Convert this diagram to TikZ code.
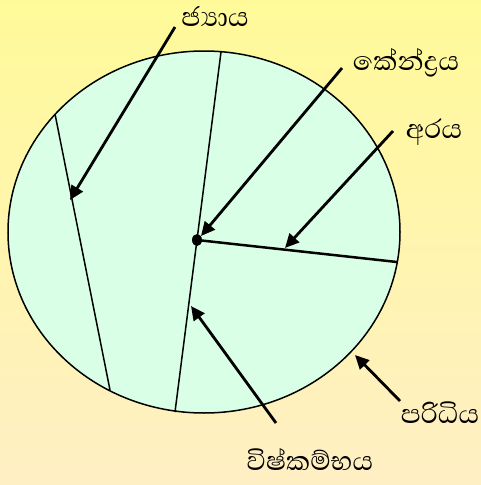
\documentclass[tikz,border=0pt]{standalone}
\usepackage{fontspec}
\newfontfamily\sinhala[Script=Sinhala]{Abhaya Libre}
\usepackage{xcolor}
\usetikzlibrary{arrows.meta,calc,positioning}
\definecolor{bgtop}{HTML}{FFFA99}
\definecolor{bgbottom}{HTML}{FFEFC4}
\definecolor{disc}{HTML}{D9FFE6}

\begin{document}
\begin{tikzpicture}[x=1pt,y=-1pt,
  lbl/.style={font=\sinhala\fontsize{34}{40}\selectfont,inner sep=0pt},
  pointer/.style={line width=2.8pt,-{Triangle[length=14pt,width=13pt]}},
  chordline/.style={line width=1.5pt}]
\useasboundingbox (0,0) rectangle (481,485);
\shade[top color=bgtop,bottom color=bgbottom] (0,0) rectangle (481,485);
% circle and its lines
\draw[line width=1.5pt,fill=disc] (204,232) ellipse [x radius=196pt,y radius=181pt];
\coordinate (c1) at (55,114); \coordinate (c2) at (110,390);
\coordinate (d1) at (221,52); \coordinate (d2) at (175,412);
\coordinate (o) at (197,240); \coordinate (r) at (397,262);
\draw[chordline] (c1) -- (c2);
\draw[chordline] (d1) -- (d2);
\draw[line width=2.5pt] (o) -- (r);
\fill (o) ellipse [x radius=5pt,y radius=6pt];
% labels
\node[lbl] (jyaya) at (215,17) {ජ්‍යාය};
\node[lbl] (kendra) at (406,63) {කේන්ද්‍රය};
\node[lbl] (araya) at (434,132) {අරය};
\node[lbl] (paridhi) at (440,413) {පරිධිය};
\node[lbl] (vishkam) at (310,459) {විෂ්කම්භය};
% arrows
\coordinate (a1) at (175,27); \coordinate (b1) at (70,200);
\coordinate (a2) at (342,68); \coordinate (b2) at (201,236);
\coordinate (a3) at (393,131); \coordinate (b3) at (285,248);
\coordinate (a4) at (400,401); \coordinate (b4) at (355,355);
\coordinate (a5) at (276,423); \coordinate (b5) at (191,306);
\draw[pointer] (a1) -- (b1);
\draw[pointer] (a2) -- (b2);
\draw[pointer] (a3) -- (b3);
\draw[pointer] (a4) -- (b4);
\draw[pointer] (a5) -- (b5);
\end{tikzpicture}
\end{document}
